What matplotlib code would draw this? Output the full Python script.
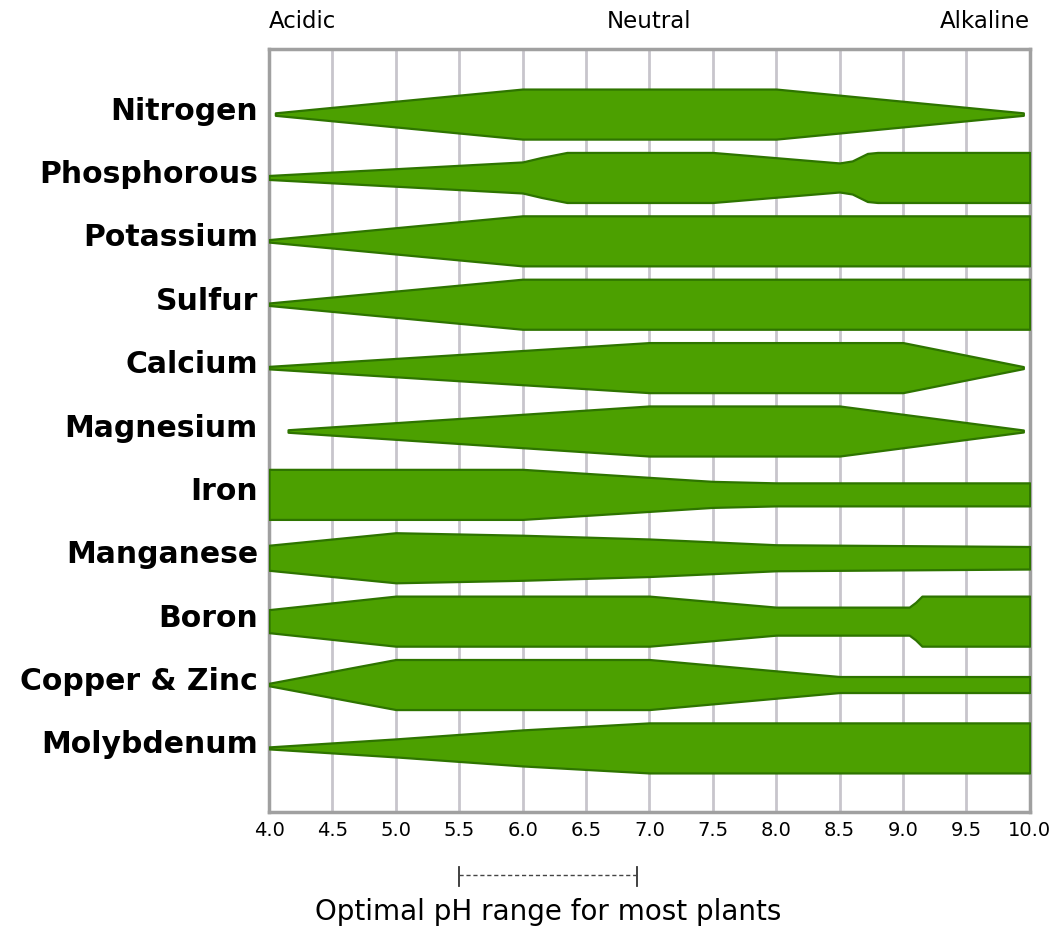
import matplotlib
matplotlib.use("Agg")
import matplotlib.pyplot as plt
import matplotlib.transforms as mtransforms

# pH breakpoints and relative band width (1 = full width) for each nutrient
nutrients = ["Nitrogen", "Phosphorous", "Potassium", "Sulfur", "Calcium",
             "Magnesium", "Iron", "Manganese", "Boron", "Copper & Zinc",
             "Molybdenum"]

nitrogen_ph = [4.05, 6.0, 8.0, 9.95]
nitrogen_w = [0.05, 1.0, 1.0, 0.05]
phosphorous_ph = [4.0, 6.0, 6.15, 6.35, 7.5, 8.5, 8.6, 8.72, 8.8, 10.0]
phosphorous_w = [0.08, 0.62, 0.8, 1.0, 1.0, 0.58, 0.66, 0.96, 1.0, 1.0]
potassium_ph = [4.0, 6.0, 10.0]
potassium_w = [0.05, 1.0, 1.0]
sulfur_ph = [4.0, 6.0, 10.0]
sulfur_w = [0.05, 1.0, 1.0]
calcium_ph = [4.0, 7.0, 9.0, 9.95]
calcium_w = [0.05, 1.0, 1.0, 0.04]
magnesium_ph = [4.15, 7.0, 8.5, 9.95]
magnesium_w = [0.05, 1.0, 1.0, 0.04]
iron_ph = [4.0, 6.0, 7.0, 7.5, 8.0, 10.0]
iron_w = [1.0, 1.0, 0.68, 0.52, 0.46, 0.46]
manganese_ph = [4.0, 5.0, 6.0, 7.0, 8.0, 10.0]
manganese_w = [0.5, 1.0, 0.9, 0.75, 0.52, 0.45]
boron_ph = [4.0, 5.0, 7.0, 8.0, 9.05, 9.1, 9.15, 10.0]
boron_w = [0.46, 1.0, 1.0, 0.56, 0.56, 0.75, 1.0, 1.0]
copper_zinc_ph = [4.0, 5.0, 7.0, 8.5, 10.0]
copper_zinc_w = [0.05, 1.0, 1.0, 0.32, 0.32]
molybdenum_ph = [4.0, 5.0, 6.0, 7.0, 10.0]
molybdenum_w = [0.04, 0.36, 0.72, 1.0, 1.0]

ph_ticks = [4.0, 4.5, 5.0, 5.5, 6.0, 6.5, 7.0, 7.5, 8.0, 8.5, 9.0, 9.5, 10.0]
optimal_range = [5.5, 6.9]
scale_labels = ["Acidic", "Neutral", "Alkaline"]

profiles = [
    (nitrogen_ph, nitrogen_w), (phosphorous_ph, phosphorous_w),
    (potassium_ph, potassium_w), (sulfur_ph, sulfur_w),
    (calcium_ph, calcium_w), (magnesium_ph, magnesium_w),
    (iron_ph, iron_w), (manganese_ph, manganese_w),
    (boron_ph, boron_w), (copper_zinc_ph, copper_zinc_w),
    (molybdenum_ph, molybdenum_w),
]

fill_col = "#4ca000"
edge_col = "#2e7400"
half = 0.395  # half height of a full band, in row units

fig = plt.figure(figsize=(10.55, 9.28), dpi=100)
ax = fig.add_axes([0.255, 0.124, 0.721, 0.822])

for i, (ph, w) in enumerate(profiles):
    lo = [i - v * half for v in w]
    hi = [i + v * half for v in w]
    ax.fill_between(ph, lo, hi, facecolor=fill_col, edgecolor=edge_col,
                    linewidth=1.6, zorder=3)

ax.set_xlim(4.0, 10.0)
ax.set_ylim(11.01, -1.025)
ax.set_xticks(ph_ticks)
ax.set_xticklabels([f"{t:.1f}" for t in ph_ticks], fontsize=14)
ax.set_yticks(range(len(nutrients)))
ax.set_yticklabels(nutrients, fontsize=21.5, fontweight="bold")
ax.tick_params(axis="both", length=0)
ax.tick_params(axis="x", pad=6)
ax.tick_params(axis="y", pad=8)
# nudge row names up a little, like the original
shift = mtransforms.ScaledTranslation(0, 5 / 72, fig.dpi_scale_trans)
for lab in ax.get_yticklabels():
    lab.set_transform(lab.get_transform() + shift)
ax.grid(axis="x", color="#c8c5cc", linewidth=2.0)
ax.grid(axis="y", visible=False)
ax.set_axisbelow(True)
for sp in ax.spines.values():
    sp.set_color("#a0a0a0")
    sp.set_linewidth(2.5)

# top scale labels
ax.text(4.0, 1.037, scale_labels[0], transform=ax.get_xaxis_transform(),
        ha="left", va="center", fontsize=16.5)
ax.text(7.0, 1.037, scale_labels[1], transform=ax.get_xaxis_transform(),
        ha="center", va="center", fontsize=16.5)
ax.text(10.0, 1.037, scale_labels[2], transform=ax.get_xaxis_transform(),
        ha="right", va="center", fontsize=16.5)

# optimal range marker under the axis
trans = mtransforms.blended_transform_factory(ax.transData, ax.transAxes)
for x in optimal_range:
    ax.plot([x, x], [-0.072, -0.097], color="#333333", lw=1.3,
            transform=trans, clip_on=False)
ax.plot(optimal_range, [-0.083, -0.083], color="#444444", lw=1.0,
        linestyle=(0, (3, 2)), transform=trans, clip_on=False)
ax.text(sum(optimal_range) / 2, -0.13, "Optimal pH range for most plants",
        transform=trans, ha="center", va="center", fontsize=20)

fig.savefig("out.png", dpi=100)
